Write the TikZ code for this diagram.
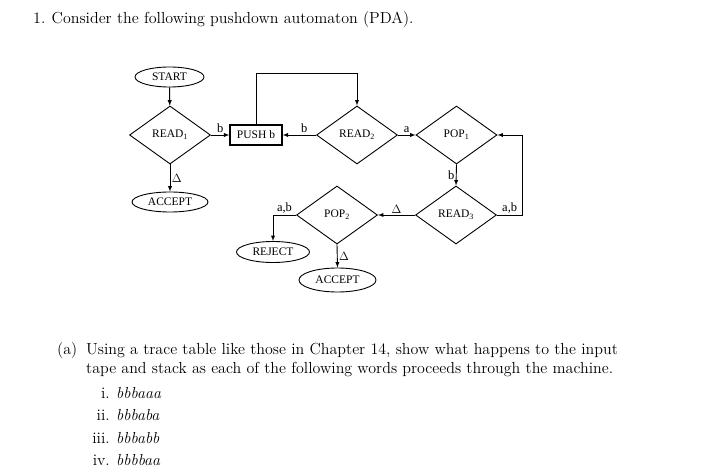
\documentclass[tikz,border=0pt]{standalone}
\usepackage{fontspec}
\usepackage{tikz}
\usetikzlibrary{calc,arrows,shapes.geometric}
\newfontfamily\figfont{Liberation Serif}
\newfontfamily\qfont{lmroman12-regular.otf}[ItalicFont=lmroman12-italic.otf]

\begin{document}
\begin{tikzpicture}[x=1pt,y=-1pt,
    txt/.style={inner sep=0pt,font=\qfont\fontsize{16}{19}\selectfont},
    oval/.style={draw,ellipse,inner sep=0pt,line width=0.9pt,font=\figfont\fontsize{11.5}{13}\selectfont},
    dmd/.style={draw,diamond,inner sep=0pt,minimum width=81pt,minimum height=58pt,line width=0.9pt,font=\figfont\fontsize{11.5}{13}\selectfont},
    box/.style={draw,rectangle,inner sep=0pt,minimum width=52pt,minimum height=20pt,line width=1.3pt,font=\figfont\fontsize{11.5}{13}\selectfont},
    lbl/.style={inner sep=1.5pt,font=\figfont\fontsize{12.5}{14}\selectfont},
    flow/.style={-latex,line width=0.9pt}]

\useasboundingbox (0,0) rectangle (723,473);

% Drawing question text
\node[txt,anchor=base west] (qnum) at (33,24) {1.};
\node[txt,anchor=base west] (title) at (51.5,24) {Consider the following pushdown automaton (PDA).};
\node[txt,anchor=base west] (parta) at (57,354) {(a)};
\node[txt,anchor=base west] (linea) at (86,354) {Using a trace table like those in Chapter 14, show what happens to the input};
\node[txt,anchor=base west] (lineb) at (86,373) {tape and stack as each of the following words proceeds through the machine.};

\node[txt,anchor=base east] (ni) at (110,398) {i.};
\node[txt,anchor=base west] (wi) at (116,398) {\itshape bbbaaa};
\node[txt,anchor=base east] (nii) at (110,420) {ii.};
\node[txt,anchor=base west] (wii) at (116,420) {\itshape bbbaba};
\node[txt,anchor=base east] (niii) at (110,443) {iii.};
\node[txt,anchor=base west] (wiii) at (116,443) {\itshape bbbabb};
\node[txt,anchor=base east] (niv) at (110,465) {iv.};
\node[txt,anchor=base west] (wiv) at (116,465) {\itshape bbbbaa};

% Drawing states
\node[oval,minimum width=69pt,minimum height=20pt] (start) at (169.5,77) {START};
\node[dmd] (read1) at (170,135) {READ\textsubscript{1}};
\node[oval,minimum width=76pt,minimum height=20pt] (acc1) at (170,202) {ACCEPT};
\node[box] (push) at (256,135) {PUSH b};
\node[dmd] (read2) at (357,135) {READ\textsubscript{2}};
\node[dmd] (pop1) at (456.5,135) {POP\textsubscript{1}};
\node[dmd] (read3) at (456,215) {READ\textsubscript{3}};
\node[dmd] (pop2) at (337,215) {POP\textsubscript{2}};
\node[oval,minimum width=73pt,minimum height=21pt] (reject) at (273,252) {REJECT};
\node[oval,minimum width=77pt,minimum height=24pt] (acc2) at (337.5,280) {ACCEPT};

% Connecting them
\draw[flow] (start) -- (read1);
\draw[flow] (read1.south) -- node[lbl,right] {$\Delta$} (acc1);
\draw[flow] (read1.east) -- node[lbl,above] {b} (push.west);
\draw[flow] (read2.west) -- node[lbl,above,pos=0.35] {b} (push.east);
\coordinate (looptop) at (0,73);
\draw[flow] (push.north) -- (push.north |- looptop) -| (read2.north);
\draw[flow] (read2.east) -- node[lbl,above] {a} (pop1.west);
\draw[flow] (pop1.south) -- node[lbl,left] {b} (read3.north);
\draw[flow] (read3.east) -- node[lbl,above] {a,b} ++(25.5,0) |- (pop1.east);
\draw[flow] (read3.west) -- node[lbl,above] {$\Delta$} (pop2.east);
\draw[flow] (pop2.west) -| node[lbl,above,pos=0.25] {a,b} (reject.north);
\draw[flow] (pop2.south) -- node[lbl,right] {$\Delta$} (acc2.north);

\end{tikzpicture}
\end{document}
